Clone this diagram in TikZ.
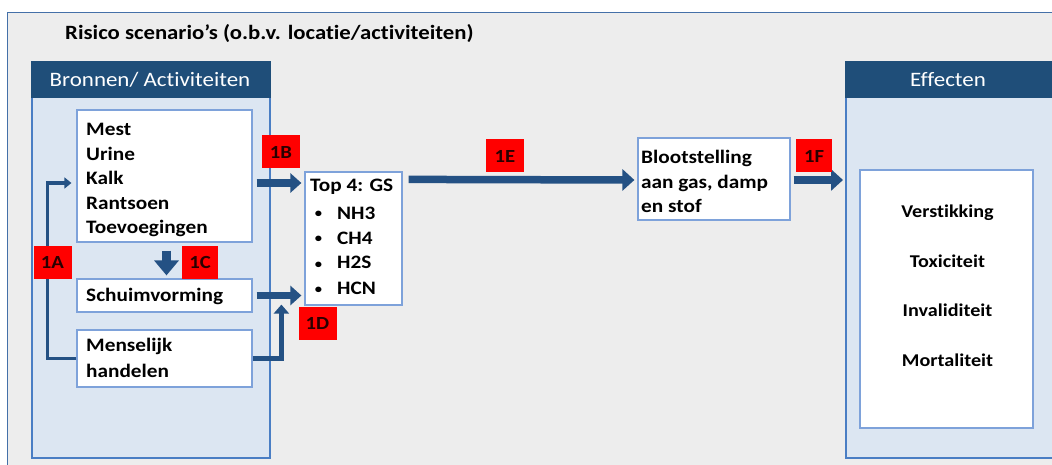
\documentclass[tikz,border=0pt]{standalone}
\usepackage{fontspec}
\setmainfont{Carlito}[FakeStretch=1.12,Ligatures=NoCommon]
\usetikzlibrary{arrows.meta,calc}
\definecolor{bg}{HTML}{EDEDED}
\definecolor{frameblue}{HTML}{4470A8}
\definecolor{hdrblue}{HTML}{1F4E79}
\definecolor{arrblue}{HTML}{245184}
\definecolor{panelfill}{HTML}{DCE6F2}
\definecolor{panelline}{HTML}{4A7EC4}
\definecolor{boxline}{HTML}{7EA2DA}
\definecolor{lblred}{HTML}{FF0000}
\definecolor{lbltext}{HTML}{2A0000}
\tikzset{
  panel/.style={fill=panelfill,draw=panelline,line width=1.5pt},
  header/.style={fill=hdrblue,draw=none},
  hdrtext/.style={text=white,inner sep=0pt,anchor=base,font=\fontsize{20.5}{24}\selectfont},
  wbox/.style={fill=white,draw=boxline,line width=1.2pt,inner sep=0pt},
  btext/.style={inner sep=0pt,font=\bfseries\fontsize{19}{24.5}\selectfont},
  efftext/.style={inner sep=0pt,anchor=base,font=\bfseries\fontsize{18}{22}\selectfont},
  lbl/.style={fill=lblred,draw=none,minimum width=38pt,minimum height=33pt,inner sep=0pt,text=lbltext,font=\bfseries\fontsize{18.5}{20}\selectfont},
  bigarrow/.style={draw=arrblue,line width=7.5pt,-{Triangle[width=19pt,length=11pt]}},
  midarrow/.style={draw=arrblue,line width=5.5pt,-{Triangle[width=15pt,length=9pt]}},
  longarrow/.style={draw=arrblue,line width=7.5pt,-{Triangle[width=21pt,length=12pt]}},
  thinarrow/.style={draw=arrblue,line width=3.5pt,-{Triangle[width=11pt,length=7pt]}},
}
\begin{document}
\begin{tikzpicture}[x=1pt,y=-1pt]
\useasboundingbox (0,0) rectangle (1052,465);
\fill[white] (0,0) rectangle (1052,465);
% outer frame
\draw[fill=bg,draw=frameblue,line width=1.5pt] (7.5,12.5) rectangle (1070,480);
\node[anchor=base west,inner sep=0pt,font=\bfseries\fontsize{20.3}{24}\selectfont] (title) at (65,40) {Risico scenario’s (o.b.v. locatie/activiteiten)};
% left panel
\draw[panel] (32,62) rectangle (270,458);
\fill[header] (31.25,61.25) rectangle (270.75,98);
\node[hdrtext] (lhdr) at (150,87) {Bronnen/ Activiteiten};
% right panel
\draw[panel] (846,62) rectangle (1070,458);
\fill[header] (845.25,61.25) rectangle (1070,98);
\node[hdrtext] (rhdr) at (948,87) {Effecten};
\coordinate (rpanel) at (846,260);
% boxes
\node[wbox,minimum width=175pt,minimum height=132pt] (mest) at (164.5,176) {};
\node[btext,anchor=north west,align=left] at (86,123) {Mest\\Urine\\Kalk\\Rantsoen\\Toevoegingen};
\node[wbox,minimum width=175pt,minimum height=33pt] (schuim) at (164.5,295.5) {};
\node[btext,anchor=base west] at (86,301) {Schuimvorming};
\node[wbox,minimum width=175pt,minimum height=57pt] (mens) at (164.5,358.5) {};
\node[btext,anchor=north west,align=left,font=\bfseries\fontsize{19}{25.5}\selectfont] at (86,338) {Menselijk\\handelen};
\node[wbox,minimum width=97pt,minimum height=133pt] (top4) at (353.5,238.5) {};
\node[btext,anchor=base west] at (310,192) {Top 4: GS};
\foreach \t/\yy in {NH3/219,CH4/244,H2S/269,HCN/294}{
  \node[inner sep=0pt,anchor=base,font=\bfseries\fontsize{13}{14}\selectfont] at (318.5,\yy-1) {•};
  \node[btext,anchor=base west] at (337,\yy) {\t};
}
\node[wbox,minimum width=152pt,minimum height=82pt] (bloot) at (714,179) {};
\node[btext,anchor=north west,align=left] at (641,150) {Blootstelling\\aan gas, damp\\en stof};
\node[wbox,minimum width=173pt,minimum height=258pt] (eff) at (946.5,299) {};
\node[efftext] (e1) at (947.5,217.5) {Verstikking};
\node[efftext] (e2) at (947.5,267.5) {Toxiciteit};
\node[efftext] (e3) at (947.5,316) {Invaliditeit};
\node[efftext] (e4) at (947.5,366) {Mortaliteit};
% connectors
\draw[thinarrow] (mens.west) -- ++(-29,0) |- ($(mest.west)+(-5,7)$);
\draw[draw=arrblue,line width=9pt,-{Triangle[width=24pt,length=15pt]}] ($(mest.south)+(2,8)$) -- ($(schuim.north)+(2,-3)$);
\draw[bigarrow] ($(mest.east)+(4,7)$) -- ($(top4.west|-mest.east)+(-3,7)$);
\draw[bigarrow] ($(schuim.east)+(4,0)$) -- ($(top4.west|-schuim.east)+(-3,0)$);
\draw[midarrow] (mens.east) -| ($(top4.south west)+(-23,-1)$);
\draw[longarrow] ($(top4.north east)+(6,8)$) -- ($(bloot.west)+(-3,1)$);
\draw[longarrow] ($(bloot.east)+(3,1)$) -- ($(rpanel|-bloot.east)+(-3,1)$);
% labels
\node[lbl] (l1a) at (52.5,262) {1A};
\node[lbl] (l1b) at (281,152) {1B};
\node[lbl,minimum width=36pt] (l1c) at (200,262) {1C};
\node[lbl] (l1d) at (317.5,323.5) {1D};
\node[lbl] (l1e) at (505,156) {1E};
\node[lbl,minimum width=36pt] (l1f) at (814,156) {1F};
\end{tikzpicture}
\end{document}
